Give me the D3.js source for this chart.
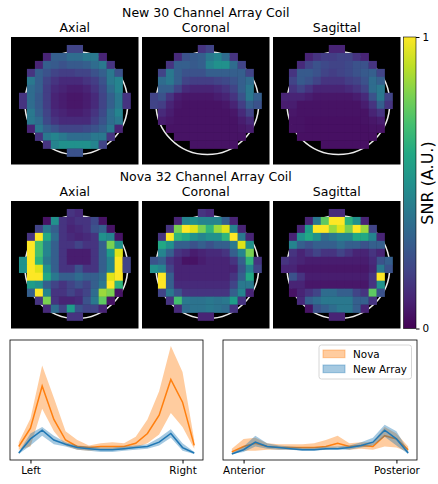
<!DOCTYPE html>
<html>
<head>
<meta charset="utf-8">
<script src="https://cdn.jsdelivr.net/npm/d3@7"></script>
<style>
  body { margin: 0; background: #fff; }
  text { font-family: "DejaVu Sans", sans-serif; fill: #000; }
</style>
</head>
<body>
<div id="container"></div>
<script>
/* CONSTANTS AND GLOBALS */
const width = 438;
const height = 484;
const _ = null; // outside the phantom mask

/* DATA */
const rowTitles = ["New 30 Channel Array Coil", "Nova 32 Channel Array Coil"];
const planeNames = ["Axial", "Coronal", "Sagittal"];
const colorbarTicks = [0, 1];
const colorbarLabel = "SNR (A.U.)";
const seriesNames = ["Nova", "New Array"];
const lrTicks = [1, 14];
const lrTickLabels = ["Left", "Right"];
const apTicks = [1, 14];
const apTickLabels = ["Anterior", "Posterior"];
const sampleIdx = [0, 1, 2, 3, 4, 5, 6, 7, 8, 9, 10, 11, 12, 13, 14, 15];

// SNR maps in percent of max, rows top -> bottom
const newAxial = [
  [_,_,_,_,_,_,_,_,_,_,_,_,_,_,_,_],
  [_,_,_,_,_,_,_,20,20,_,_,_,_,_,_,_],
  [_,_,_,_,10,30,30,35,35,40,40,10,_,_,_,_],
  [_,_,_,10,30,28,25,28,28,30,35,40,15,_,_,_],
  [_,_,15,30,25,20,18,18,20,20,25,30,40,25,_,_],
  [_,_,40,30,20,15,12,12,12,15,18,25,40,45,_,_],
  [_,_,35,30,18,12,10,8,8,10,15,22,35,45,_,_],
  [_,15,35,28,18,10,8,6,6,8,12,20,30,40,15,_],
  [_,15,35,28,18,10,8,6,6,8,12,20,30,40,15,_],
  [_,_,40,30,20,12,10,8,8,10,15,22,35,45,_,_],
  [_,_,40,35,22,15,12,12,12,12,18,25,35,40,_,_],
  [_,_,10,40,30,25,20,20,20,22,25,30,40,10,_,_],
  [_,_,_,15,40,45,40,35,35,35,40,40,15,_,_,_],
  [_,_,_,_,15,45,50,50,50,50,45,20,_,_,_,_],
  [_,_,_,_,_,_,_,25,25,_,_,_,_,_,_,_],
  [_,_,_,_,_,_,_,_,_,_,_,_,_,_,_,_]
];
const newCoronal = [
  [_,_,_,_,_,_,_,_,_,_,_,_,_,_,_,_],
  [_,_,_,_,_,_,_,15,20,_,_,_,_,_,_,_],
  [_,_,_,_,12,25,28,30,40,45,35,15,_,_,_,_],
  [_,_,_,15,30,30,28,30,45,50,50,35,20,_,_,_],
  [_,_,20,40,30,25,25,25,30,30,30,30,30,20,_,_],
  [_,_,35,40,30,20,18,18,18,20,22,25,30,35,_,_],
  [_,_,30,30,20,12,10,10,10,12,15,20,30,40,_,_],
  [_,20,25,15,8,6,6,6,6,8,10,15,25,40,30,_],
  [_,20,18,10,6,5,5,5,5,5,6,10,18,30,25,_],
  [_,_,12,8,5,5,5,5,5,5,5,6,12,20,_,_],
  [_,_,8,6,5,5,5,5,5,5,5,5,8,12,_,_],
  [_,_,_,5,5,5,5,5,5,5,5,5,6,8,_,_],
  [_,_,_,_,5,5,5,5,5,5,5,5,5,_,_,_],
  [_,_,_,_,_,_,5,5,5,5,5,5,_,_,_,_],
  [_,_,_,_,_,_,_,_,_,_,_,_,_,_,_,_],
  [_,_,_,_,_,_,_,_,_,_,_,_,_,_,_,_]
];
const newSagittal = [
  [_,_,_,_,_,_,_,_,_,_,_,_,_,_,_,_],
  [_,_,_,_,_,_,_,10,10,_,_,_,_,_,_,_],
  [_,_,_,_,10,15,18,18,20,20,15,10,_,_,_,_],
  [_,_,_,12,20,25,22,20,20,22,25,25,15,_,_,_],
  [_,_,15,28,28,25,20,18,20,22,25,28,30,20,_,_],
  [_,_,20,28,25,20,15,15,15,18,20,25,35,30,_,_],
  [_,_,15,20,15,10,10,10,10,12,15,20,35,40,_,_],
  [_,10,10,10,8,6,6,6,6,6,8,12,25,40,20,_],
  [_,8,8,5,5,5,5,5,5,5,5,8,15,30,15,_],
  [_,_,6,5,5,5,5,5,5,5,5,5,10,15,_,_],
  [_,_,5,5,4,4,4,4,4,4,4,5,6,8,_,_],
  [_,_,5,5,4,4,4,4,4,4,4,4,5,5,_,_],
  [_,_,_,4,4,4,4,4,4,4,4,4,4,_,_,_],
  [_,_,_,_,_,_,4,4,4,4,4,4,_,_,_,_],
  [_,_,_,_,_,_,_,_,_,_,_,_,_,_,_,_],
  [_,_,_,_,_,_,_,_,_,_,_,_,_,_,_,_]
];
const novaAxial = [
  [_,_,_,_,_,_,_,_,_,_,_,_,_,_,_,_],
  [_,_,_,_,_,_,_,15,12,_,_,_,_,_,_,_],
  [_,_,_,_,5,50,15,12,15,15,22,5,_,_,_,_],
  [_,_,_,20,40,30,15,10,12,15,25,30,5,_,_,_],
  [_,_,15,100,60,35,15,12,10,12,15,50,45,5,_,_],
  [_,_,100,70,45,30,15,15,20,15,15,30,80,50,_,_],
  [_,_,100,70,45,30,15,8,8,8,15,30,55,95,_,_],
  [_,50,100,65,40,30,15,8,8,8,15,30,45,100,20,_],
  [_,50,100,95,50,30,15,15,25,15,15,30,45,100,20,_],
  [_,_,100,100,60,40,30,30,35,30,30,35,95,100,_,_],
  [_,_,55,50,30,20,15,20,25,20,30,40,100,65,_,_],
  [_,_,30,100,45,15,15,20,15,20,35,85,80,5,_,_],
  [_,_,_,15,80,15,10,10,12,25,40,75,5,_,_,_],
  [_,_,_,_,12,35,20,55,25,20,20,10,_,_,_,_],
  [_,_,_,_,_,_,_,15,15,_,_,_,_,_,_,_],
  [_,_,_,_,_,_,_,_,_,_,_,_,_,_,_,_]
];
const novaCoronal = [
  [_,_,_,_,_,_,_,_,_,_,_,_,_,_,_,_],
  [_,_,_,_,_,_,_,15,12,_,_,_,_,_,_,_],
  [_,_,_,_,10,45,50,45,45,45,30,10,_,_,_,_],
  [_,_,_,15,80,100,95,80,65,85,95,45,10,_,_,_],
  [_,_,15,100,65,60,50,45,50,50,65,100,40,10,_,_],
  [_,_,60,50,30,30,25,30,25,30,30,40,95,50,_,_],
  [_,_,45,30,15,12,8,10,12,12,15,30,45,80,_,_],
  [_,25,30,15,10,5,5,8,10,10,10,15,30,65,15,_],
  [_,50,45,20,10,10,10,10,10,10,10,10,25,45,20,_],
  [_,_,100,30,10,10,10,10,10,10,10,15,30,60,_,_],
  [_,_,100,30,12,12,12,12,12,12,12,20,40,40,_,_],
  [_,_,20,40,25,15,15,15,15,15,15,30,45,10,_,_],
  [_,_,_,15,70,40,38,38,40,38,40,55,15,_,_,_],
  [_,_,_,_,12,35,38,38,40,38,35,15,_,_,_,_],
  [_,_,_,_,_,_,_,10,10,_,_,_,_,_,_,_],
  [_,_,_,_,_,_,_,_,_,_,_,_,_,_,_,_]
];
const novaSagittal = [
  [_,_,_,_,_,_,_,_,_,_,_,_,_,_,_,_],
  [_,_,_,_,_,_,_,12,12,_,_,_,_,_,_,_],
  [_,_,_,_,10,40,75,100,100,65,50,10,_,_,_,_],
  [_,_,_,10,55,100,100,85,95,80,100,85,20,_,_,_],
  [_,_,10,50,60,50,35,40,45,45,60,60,45,10,_,_],
  [_,_,45,30,25,30,30,30,35,30,30,25,30,30,_,_],
  [_,_,15,10,15,20,15,15,20,15,10,10,15,10,_,_],
  [_,15,12,10,8,8,8,8,8,8,8,8,12,25,30,_],
  [_,10,10,6,6,6,6,6,6,6,6,6,10,40,25,_],
  [_,_,25,15,8,8,8,8,8,8,8,8,15,100,_,_],
  [_,_,10,10,6,6,6,6,6,6,6,6,15,50,_,_],
  [_,_,5,10,15,20,35,35,30,30,20,15,75,25,_,_],
  [_,_,_,12,30,35,40,40,40,40,30,30,15,_,_,_],
  [_,_,_,_,5,25,30,35,40,40,30,10,_,_,_,_],
  [_,_,_,_,_,_,_,10,10,_,_,_,_,_,_,_],
  [_,_,_,_,_,_,_,_,_,_,_,_,_,_,_,_]
];

// profiles, percent of the shared y range
const lrNova   = [7, 24, 63, 32, 13, 7, 6, 7, 7, 7, 10, 19, 36, 69, 48, 8];
const lrNovaLo = [4, 7, 42, 21, 8, 4, 3, 4, 4, 4, 6, 10, 18, 38, 25, 5];
const lrNovaHi = [11, 33, 82, 52, 21, 13, 8, 10, 11, 10, 16, 32, 58, 100, 76, 13];
const lrNew    = [1, 14, 22, 13, 9, 6, 5, 4, 4, 5, 6, 7, 11, 19, 6, 1];
const lrNewLo  = [0, 8, 17, 9, 7, 4, 3, 2, 2, 3, 4, 5, 8, 15, 3, 0];
const lrNewHi  = [2, 19, 25, 17, 11, 8, 7, 6, 6, 7, 8, 9, 15, 23, 10, 2];
const apNova   = [2, 7, 10, 7, 6, 6, 6, 6, 7, 10, 7, 8, 7, 17, 14, 4];
const apNovaLo = [1, 3, 3, 4, 4, 4, 4, 4, 4, 6, 4, 5, 4, 7, 6, 2];
const apNovaHi = [5, 14, 15, 10, 9, 9, 9, 10, 13, 17, 10, 11, 11, 25, 19, 7];
const apNew    = [0, 4, 11, 7, 6, 5, 4, 4, 5, 5, 6, 8, 11, 22, 14, 1];
const apNewLo  = [0, 2, 7, 5, 4, 4, 3, 3, 4, 4, 4, 6, 8, 16, 8, 0];
const apNewHi  = [1, 7, 17, 10, 8, 7, 6, 6, 7, 7, 8, 11, 15, 27, 21, 3];

const maps = [[newAxial, newCoronal, newSagittal], [novaAxial, novaCoronal, novaSagittal]];
const orange = "#ff7f0e", blue = "#1f77b4";

/* HTML ELEMENTS */
const svg = d3.select("#container")
  .append("svg")
  .attr("width", width)
  .attr("height", height);

/* HEATMAPS */
const color = d3.scaleSequential(d3.interpolateViridis).domain([0, 100]);
const panelX = [11, 142, 273];
const panelY = [37, 201];
const panelSize = 127.5;

maps.forEach((row, ri) => {
  svg.append("text")
    .attr("x", panelX[1] + panelSize / 2)
    .attr("y", ri === 0 ? 17 : 180.5)
    .attr("text-anchor", "middle")
    .style("font-size", "12.5px")
    .text(rowTitles[ri]);

  row.forEach((grid, pi) => {
    const xScale = d3.scaleBand().domain(d3.range(16)).range([panelX[pi], panelX[pi] + panelSize]);
    const yScale = d3.scaleBand().domain(d3.range(16)).range([panelY[ri], panelY[ri] + panelSize]);
    const cell = xScale.bandwidth();

    svg.append("text")
      .attr("x", panelX[pi] + panelSize / 2)
      .attr("y", panelY[ri] - 5.5)
      .attr("text-anchor", "middle")
      .style("font-size", "12.5px")
      .text(planeNames[pi]);

    const g = svg.append("g");
    g.append("rect")
      .attr("x", panelX[pi]).attr("y", panelY[ri])
      .attr("width", panelSize).attr("height", panelSize)
      .attr("fill", "#000");

    // phantom rim, mostly hidden, peeking out at a few mask edges
    g.append("circle")
      .attr("cx", panelX[pi] + 8.2 * cell)
      .attr("cy", panelY[ri] + 8.3 * cell)
      .attr("r", 6.45 * cell)
      .attr("fill", "none")
      .attr("stroke", "#ececec")
      .attr("stroke-width", 1.5);

    const cells = [];
    grid.forEach((vals, r) => vals.forEach((v, c) => { if (v !== null) cells.push({ r, c, v }); }));

    g.selectAll("rect.cell")
      .data(cells)
      .join("rect")
      .attr("class", "cell")
      .attr("x", d => xScale(d.c))
      .attr("y", d => yScale(d.r))
      .attr("width", cell + 0.3)
      .attr("height", cell + 0.3)
      .attr("fill", d => color(d.v));
  });
});

/* COLORBAR */
const cbX = 403.5, cbW = 12.5;
const cbScale = d3.scaleLinear().domain([0, 1]).range([panelY[1] + panelSize, panelY[0]]);
const grad = svg.append("defs").append("linearGradient")
  .attr("id", "viridis").attr("x1", 0).attr("y1", 1).attr("x2", 0).attr("y2", 0);
grad.selectAll("stop")
  .data(d3.range(0, 1.01, 0.1))
  .join("stop")
  .attr("offset", d => d)
  .attr("stop-color", d => d3.interpolateViridis(d));

svg.append("rect")
  .attr("x", cbX).attr("y", cbScale(1))
  .attr("width", cbW).attr("height", cbScale(0) - cbScale(1))
  .attr("fill", "url(#viridis)")
  .attr("stroke", "#000").attr("stroke-width", 0.6);

svg.append("g")
  .attr("transform", `translate(${cbX + cbW}, 0)`)
  .call(d3.axisRight(cbScale).tickValues(colorbarTicks).tickFormat(d3.format("d")).tickSize(3.5).tickPadding(3))
  .call(g => g.select(".domain").remove())
  .selectAll("text")
  .style("font-size", "10.4px");

svg.append("text")
  .attr("transform", `translate(433, 183) rotate(-90)`)
  .attr("text-anchor", "middle")
  .style("font-size", "16px")
  .text(colorbarLabel);

/* PROFILES */
const yScale = d3.scaleLinear().domain([-5.5, 105.5]).range([460, 340]);

function profile(x0, x1, ticks, tickLabels, nova, novaLo, novaHi, arr, arrLo, arrHi, legend) {
  const xScale = d3.scaleLinear().domain([-0.75, 15.75]).range([x0, x1]);
  const g = svg.append("g");

  const area = (lo, hi) => d3.area()
    .x((d, i) => xScale(sampleIdx[i]))
    .y0((d, i) => yScale(lo[i]))
    .y1((d, i) => yScale(hi[i]));
  const line = vals => d3.line()
    .x((d, i) => xScale(sampleIdx[i]))
    .y((d, i) => yScale(vals[i]));

  g.append("path").datum(sampleIdx).attr("d", area(novaLo, novaHi)).attr("fill", orange).attr("fill-opacity", 0.4);
  g.append("path").datum(sampleIdx).attr("d", line(nova)).attr("fill", "none").attr("stroke", orange).attr("stroke-width", 1.5);
  g.append("path").datum(sampleIdx).attr("d", area(arrLo, arrHi)).attr("fill", blue).attr("fill-opacity", 0.4);
  g.append("path").datum(sampleIdx).attr("d", line(arr)).attr("fill", "none").attr("stroke", blue).attr("stroke-width", 1.5);

  g.append("g")
    .attr("transform", "translate(0, 460)")
    .call(d3.axisBottom(xScale).tickValues(ticks).tickFormat((d, i) => tickLabels[i]).tickSize(3.5).tickPadding(3))
    .call(a => a.select(".domain").remove())
    .selectAll("text")
    .style("font-size", "10.4px");

  g.append("rect")
    .attr("x", x0).attr("y", 340)
    .attr("width", x1 - x0).attr("height", 120)
    .attr("fill", "none").attr("stroke", "#000").attr("stroke-width", 0.8);

  if (legend) {
    const lg = g.append("g").attr("transform", "translate(319, 345)");
    lg.append("rect")
      .attr("width", 92.5).attr("height", 34)
      .attr("rx", 2.5)
      .attr("fill", "#fff").attr("fill-opacity", 0.8)
      .attr("stroke", "#ccc").attr("stroke-width", 0.8);
    [orange, blue].forEach((c, i) => {
      lg.append("rect")
        .attr("x", 4).attr("y", 5 + i * 15)
        .attr("width", 22).attr("height", 7.7)
        .attr("fill", c).attr("fill-opacity", 0.4)
        .attr("stroke", c).attr("stroke-opacity", 0.4);
      lg.append("text")
        .attr("x", 34).attr("y", 12.5 + i * 15)
        .style("font-size", "10.4px")
        .text(seriesNames[i]);
    });
  }
}

profile(10, 203, lrTicks, lrTickLabels, lrNova, lrNovaLo, lrNovaHi, lrNew, lrNewLo, lrNewHi, false);
profile(223, 417, apTicks, apTickLabels, apNova, apNovaLo, apNovaHi, apNew, apNewLo, apNewHi, true);
</script>
</body>
</html>
